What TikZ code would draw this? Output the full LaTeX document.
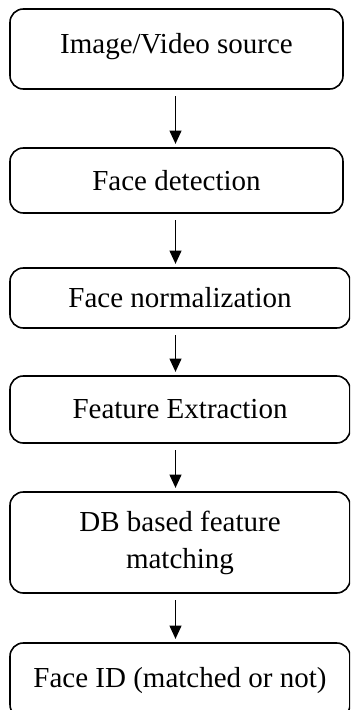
\documentclass[tikz,border=0pt]{standalone}
\usepackage{fontspec}
\setmainfont{Liberation Serif}
\usetikzlibrary{arrows.meta}

\begin{document}
\begin{tikzpicture}[x=0.75pt,y=-0.75pt,
		stage/.style={draw, line width=1.2pt, rounded corners=10pt, inner sep=0pt, align=center,
			font=\fontsize{21.75pt}{27.75pt}\selectfont},
		flow/.style={-{Triangle[width=9pt,length=10pt]}, line width=1pt, shorten <=5pt, shorten >=2.5pt}]
		% Fix the frame
		\useasboundingbox (0,0) rectangle (350,710);
		\clip (0,0) rectangle (350,710);
		% Draw the stages
		\node[stage, minimum width=249.75pt, minimum height=60pt, text depth=9pt] (src) at (176.5,49) {Image/Video source};
		\node[stage, minimum width=249.75pt, minimum height=48.75pt] (det) at (176.5,180.5) {Face detection};
		\node[stage, minimum width=255pt, minimum height=45pt] (norm) at (180,298) {Face normalization};
		\node[stage, minimum width=255pt, minimum height=50.25pt] (feat) at (180,409.5) {Feature Extraction};
		\node[stage, minimum width=255pt, minimum height=75.75pt] (match) at (180,542.5) {DB based feature\\matching};
		\node[stage, minimum width=255pt, minimum height=56.25pt] (id) at (180,680.5) {Face ID (matched or not)};
		% Draw the arrows down the middle
		\coordinate (mid) at (175.5,0);
		\foreach \a/\b in {src/det, det/norm, norm/feat, feat/match, match/id}
			\draw[flow] (\a.south -| mid) -- (\b.north -| mid);
\end{tikzpicture}
\end{document}
